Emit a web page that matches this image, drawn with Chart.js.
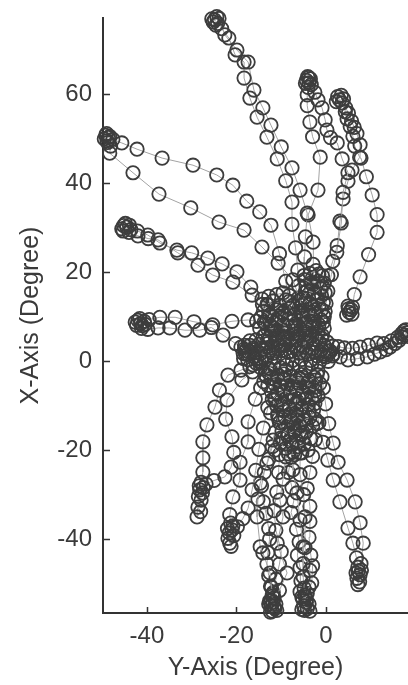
<!DOCTYPE html>
<html><head><meta charset="utf-8">
<script src="https://cdn.jsdelivr.net/npm/chart.js@4.4.0/dist/chart.umd.min.js"></script>
<style>html,body{margin:0;padding:0;background:#fff;overflow:hidden}canvas{display:block}</style>
</head><body>
<canvas id="c" width="408" height="685"></canvas>
<script>
// Axis tick labels and ranges (degrees)
const xTicks = [-40, -20, 0];
const yTicks = [-40, -20, 0, 20, 40, 60];
const xRange = [-49.8, 18.3];
const yRange = [-56.6, 77.2];
const xTitle = 'Y-Axis (Degree)';
const yTitle = 'X-Axis (Degree)';

// Head trajectories: [Y-axis deg, X-axis deg], centre -> target -> centre
const trialNW = [[-6.5,5.5],[-6.8,6.2],[-7.2,6.8],[-7.0,7.9],[-7.5,9.0],[-7.9,10.6],
 [-8.2,13.5],[-9.0,18.0],[-10.4,24.2],[-12.3,30.6],[-14.8,33.6],[-17.7,36.0],[-20.8,39.6],[-24.4,41.9],[-29.7,44.1],[-36.6,45.7],[-42.2,47.7],[-45.6,49.1],[-47.6,49.9],
 [-48.6,50.3],[-49.2,50.8],[-48.9,49.6],[-49.5,50.0],[-48.3,50.6],[-49.0,51.2],[-48.8,49.2],[-48.1,48.4],
 [-48.3,46.8],[-43.1,42.4],[-37.3,37.6],[-30.2,34.5],[-23.9,31.3],[-18.3,29.5],[-14.3,25.7],[-10.7,22.1],[-7.4,18.3],[-5.8,13.8],[-5.2,10.5],[-5.0,8.2],[-4.8,7.1],[-5.1,6.4]];

const trialWNW = [[-9.5,3.8],[-9.9,4.5],[-10.3,5.4],[-10.8,6.8],[-11.5,8.6],
 [-12.8,11.0],[-14.3,14.0],[-16.8,16.7],[-19.9,20.1],[-23.2,21.9],[-26.4,23.2],[-30.0,24.4],[-33.3,25.0],[-37.1,26.6],[-39.8,28.4],[-42.1,29.3],
 [-43.6,29.6],[-44.5,30.2],[-45.2,30.5],[-44.0,29.0],[-45.6,29.8],[-44.8,31.0],[-43.9,30.6],[-45.3,29.3],
 [-42.0,28.2],[-39.7,27.6],[-37.5,27.3],[-33.1,24.4],[-28.6,21.6],[-25.3,19.4],[-20.8,17.8],[-16.5,14.9],[-13.0,12.7],[-10.5,10.0],[-9.2,7.6],[-8.8,5.5],[-8.6,4.4]];

const trialW = [[-10.5,4.0],[-11.0,4.8],[-11.5,5.9],[-12.2,7.2],[-13.5,8.4],
 [-15.5,9.0],[-17.4,9.3],[-21.0,9.0],[-25.3,8.2],[-29.5,8.9],[-33.7,9.9],[-37.1,9.9],[-39.5,9.4],
 [-40.6,9.0],[-41.4,8.5],[-42.0,9.2],[-41.0,8.0],[-42.3,8.1],[-40.4,8.3],[-41.6,9.6],[-42.6,8.8],[-41.2,7.4],
 [-39.8,7.2],[-37.5,7.5],[-34.9,7.5],[-31.5,7.0],[-28.2,7.0],[-25.6,7.6],[-23.0,5.9],[-20.2,4.0],[-18.2,2.8],[-17.3,2.3],[-16.8,1.8],[-17.6,2.6],[-16.4,2.9],[-17.9,1.6],[-15.6,2.0],[-14.0,2.4],[-12.3,2.6]];

const trialNNW = [[-5.5,9.5],[-5.8,10.6],[-6.0,12.0],[-6.2,14.2],[-6.1,17.0],[-6.3,20.5],
 [-6.8,25.5],[-7.6,30.8],[-7.6,35.8],[-9.0,40.6],[-10.9,45.5],[-13.2,50.4],[-15.4,54.9],[-17.0,59.2],[-18.3,63.7],[-18.3,67.3],[-20.3,68.9],[-21.7,72.7],[-23.3,74.8],
 [-24.2,76.0],[-24.9,76.8],[-24.4,77.5],[-25.2,76.3],[-24.6,75.6],[-25.5,77.0],[-23.9,77.1],
 [-22.6,73.4],[-19.9,70.0],[-17.4,67.3],[-16.1,61.0],[-14.1,57.0],[-12.3,53.1],[-10.0,48.2],[-7.6,43.5],[-5.8,38.5],[-4.2,33.3],[-4.6,28.0],[-4.8,23.5],[-4.9,19.3],[-4.6,15.6],[-4.4,13.1],[-4.5,11.8]];

const trialN = [[-2.6,8.5],[-2.9,9.3],[-3.2,10.5],[-3.0,12.2],[-2.8,14.5],[-2.7,17.6],
 [-2.9,21.8],[-2.9,26.8],[-4.0,32.9],[-1.8,38.5],[-1.3,45.9],[-3.0,50.5],[-3.6,53.8],[-4.2,57.5],[-4.2,59.9],[-4.0,61.6],
 [-3.8,62.6],[-4.4,63.2],[-3.5,63.5],[-4.1,64.0],[-3.3,62.2],[-4.6,62.5],[-3.9,63.8],
 [-2.5,60.5],[-1.8,58.8],[-0.9,57.0],[-0.2,54.3],[0.2,52.0],[1.0,50.3],[2.5,49.1],[3.6,45.5],[4.9,42.4],[3.8,38.0],[3.4,31.1],[2.4,24.5],[1.2,19.5],[0.4,15.8],[0.0,13.0],[-0.2,11.2],[-0.5,10.2]];

const trialNNE = [[4.6,10.4],[5.2,11.0],[5.8,10.6],[5.0,11.8],[5.6,11.6],[4.9,12.4],[5.9,12.2],
 [6.3,15.0],[7.6,19.0],[9.5,24.0],[11.4,29.0],[11.4,33.0],[10.3,37.4],[9.0,41.5],[7.8,45.7],[7.6,48.7],[6.9,51.2],[6.3,52.6],[5.7,54.0],[5.0,55.8],[4.4,57.0],
 [3.6,58.1],[3.0,58.8],[2.6,59.5],[3.4,59.8],[2.3,58.4],[3.9,59.0],
 [4.3,56.1],[4.7,54.5],[5.4,52.8],[6.0,50.6],[6.4,48.4],[7.5,45.9],[5.8,43.0],[4.9,40.5],[3.8,36.5],[3.1,31.5],[2.5,26.0],[1.5,22.5],[0.4,19.2],[-0.8,16.8],[-1.6,15.0]];

const trialE = [[-0.5,2.2],[-0.1,1.6],[0.4,2.0],[0.9,2.1],[1.6,1.6],
 [3.2,1.0],[4.9,0.3],[7.0,0.6],[9.2,1.0],[10.8,1.6],[12.1,2.1],[13.4,2.6],[14.3,3.2],[15.4,4.0],[16.3,4.7],
 [17.0,5.5],[17.6,5.9],[18.0,6.4],[17.4,6.8],[18.3,5.6],[16.9,6.2],[17.8,7.1],
 [16.0,5.4],[14.6,4.6],[12.9,4.0],[11.4,4.1],[9.5,3.6],[7.6,3.2],[5.9,2.9],[4.1,3.0],[2.7,3.3],[1.5,3.4]];

const trialSW = [[-14.5,0.5],[-15.0,0.0],[-15.6,-0.4],[-16.3,-0.8],[-17.0,-1.2],
 [-19.0,-2.0],[-21.9,-3.1],[-23.8,-6.5],[-24.8,-10.3],[-26.6,-14.3],[-27.5,-18.1],[-27.5,-21.7],[-27.5,-24.9],[-27.9,-27.2],
 [-28.2,-28.9],[-27.6,-29.6],[-28.5,-30.4],[-27.9,-31.2],[-28.6,-32.8],[-28.0,-33.8],[-28.8,-35.0],[-28.3,-28.0],[-27.4,-28.4],
 [-26.8,-27.6],[-25.0,-26.8],[-22.6,-26.0],[-21.2,-23.8],[-20.6,-20.5],[-21.0,-17.0],[-22.4,-13.0],[-22.1,-8.7],[-18.8,-4.2],[-16.4,-2.4],[-14.6,-1.4]];

const trialSSW = [[-12.4,-1.8],[-12.8,-2.6],[-13.3,-3.4],[-13.9,-4.6],[-14.6,-6.0],
 [-15.8,-8.5],[-17.4,-13.6],[-17.4,-18.1],[-19.2,-22.7],[-19.2,-26.7],[-20.8,-30.5],[-21.5,-34.5],[-21.3,-36.4],
 [-21.0,-37.9],[-21.6,-38.6],[-20.6,-39.2],[-21.5,-40.9],[-21.9,-39.8],[-20.8,-37.0],[-22.0,-37.6],[-21.2,-41.6],
 [-19.8,-37.2],[-18.6,-35.4],[-17.4,-33.0],[-16.5,-28.9],[-15.7,-24.5],[-15.0,-19.8],[-14.0,-15.0],[-13.0,-10.4],[-12.2,-6.8],[-11.6,-4.0]];

const trialS1 = [[-9.0,-2.0],[-9.4,-2.8],[-9.9,-3.9],[-10.4,-5.3],[-10.9,-7.0],
 [-11.4,-8.7],[-10.7,-12.5],[-11.8,-17.7],[-13.2,-22.9],[-14.7,-27.4],[-15.2,-31.0],[-15.4,-35.0],[-14.7,-41.7],[-14.1,-43.1],[-12.5,-47.6],[-12.2,-50.8],[-11.9,-52.8],
 [-11.8,-54.2],[-12.3,-55.0],[-11.4,-55.6],[-12.0,-56.2],[-11.2,-54.6],[-12.6,-53.9],[-11.6,-53.2],
 [-10.4,-51.5],[-8.7,-47.6],[-10.9,-40.9],[-9.6,-35.0],[-10.3,-31.2],[-9.6,-26.5],[-9.0,-21.5],[-8.6,-16.8],[-8.2,-12.5],[-8.0,-8.6],[-7.8,-5.9]];

const trialS1b = [[-10.0,-10.0],[-10.6,-13.0],[-11.4,-16.0],[-12.0,-19.2],[-12.8,-22.0],[-13.8,-25.0],[-14.4,-28.0],[-14.0,-31.6],[-13.4,-34.2],[-12.8,-37.6],[-12.6,-40.0],[-13.0,-43.0],[-13.2,-45.6],[-12.8,-48.2],[-12.4,-50.6],[-12.0,-52.4],
 [-12.2,-53.8],[-12.8,-54.6],[-11.6,-55.4],[-12.4,-56.4],[-11.0,-56.0],
 [-11.8,-52.0],[-11.2,-49.0],[-10.4,-45.6],[-10.0,-42.8],[-11.2,-38.0],[-11.6,-33.6],[-11.0,-29.4],[-10.6,-25.0],[-10.4,-21.0],[-10.0,-17.2],[-9.6,-13.6]];

const trialS2 = [[-5.5,-3.0],[-5.9,-3.8],[-6.2,-4.9],[-6.6,-6.2],[-7.0,-8.0],
 [-7.3,-11.5],[-7.4,-16.1],[-7.4,-20.5],[-7.4,-24.4],[-6.5,-29.6],[-5.8,-35.7],[-5.1,-41.7],[-5.1,-45.5],[-5.1,-48.5],[-4.9,-51.0],
 [-4.7,-52.6],[-5.2,-53.5],[-4.4,-54.2],[-5.0,-55.0],[-4.2,-55.6],[-5.4,-55.8],[-4.6,-53.0],
 [-3.8,-50.8],[-3.6,-47.0],[-4.7,-41.9],[-4.7,-35.0],[-5.0,-30.0],[-5.8,-25.5],[-5.8,-20.6],[-5.2,-15.8],[-4.6,-11.3],[-4.3,-7.6],[-4.2,-5.0]];

const trialS2b = [[-6.4,-9.0],[-6.8,-12.2],[-6.2,-15.0],[-6.6,-18.4],[-7.8,-21.6],[-8.4,-25.0],[-7.6,-28.4],[-7.2,-31.4],[-7.8,-34.0],[-6.6,-37.8],[-6.0,-40.6],[-6.4,-43.6],[-5.8,-46.4],[-5.6,-49.4],[-5.8,-51.8],
 [-5.4,-53.0],[-4.4,-53.6],[-3.8,-54.6],[-4.8,-56.0],[-3.6,-56.2],
 [-4.2,-52.2],[-3.2,-49.8],[-3.0,-46.0],[-3.4,-43.6],[-3.8,-39.6],[-3.6,-36.0],[-3.6,-32.6],[-4.2,-28.6],[-3.6,-25.0],[-3.0,-21.4],[-2.4,-17.6],[-2.0,-14.0]];

const trialSSE = [[-1.8,-2.2],[-2.0,-3.0],[-2.3,-4.2],[-2.5,-5.8],[-2.5,-7.6],
 [-2.5,-9.5],[-1.6,-13.8],[-0.7,-18.2],[0.4,-22.2],[1.6,-26.7],[3.1,-31.6],[4.9,-37.5],[6.0,-40.9],[6.8,-44.2],[7.1,-46.3],
 [7.2,-47.2],[7.6,-48.0],[6.9,-48.8],[7.5,-49.6],[6.7,-47.6],[7.9,-47.0],[7.1,-50.2],
 [7.8,-45.5],[8.3,-40.9],[7.6,-36.3],[6.5,-31.6],[4.7,-26.7],[2.7,-22.7],[1.6,-18.4],[0.6,-14.0],[-0.1,-9.6],[-0.6,-6.0],[-0.9,-3.5]];

// Dwell samples around the centre between trials
const centreBand = [[-19.0,3.2],[-18.0,2.4],[-17.0,3.6],[-16.0,2.6],[-15.0,3.8],[-14.0,2.8],[-13.0,4.0],[-12.0,3.0],[-11.0,4.2],[-10.0,2.4],[-9.0,3.6],[-8.0,2.2],[-7.0,3.4],[-6.0,1.8],[-5.0,3.2],[-4.0,1.6],[-3.0,2.8],[-2.0,1.2],[-1.0,2.6],[0.0,1.0],[0.8,2.4],
 [-0.4,3.6],[-1.6,4.4],[-2.8,3.8],[-4.2,4.6],[-5.4,3.6],[-6.6,4.8],[-7.8,3.8],[-9.2,5.0],[-10.4,3.6],[-11.8,1.8],[-13.2,1.2],[-14.6,1.8],[-16.0,1.0],[-17.4,1.6],[-18.4,0.6]];

const centreBand2 = [[-18.5,1.8],[-17.5,0.4],[-16.5,2.0],[-15.5,0.6],[-14.5,3.0],[-13.5,0.4],[-12.5,2.2],[-11.5,0.8],[-10.5,2.8],[-9.5,0.6],[-8.5,2.0],[-7.5,0.2],[-6.5,2.6],[-5.5,0.4],[-4.5,2.2],[-3.5,0.2],[-2.5,2.0],[-1.5,-0.2],[-0.5,1.2],[0.5,0.0],[1.4,1.2],
 [0.2,4.4],[-1.0,5.2],[-2.2,4.8],[-3.6,5.4],[-4.8,4.6],[-6.2,5.6],[-7.2,4.4],[-8.6,4.4],[-9.8,5.6],[-11.2,5.0],[-12.6,5.4],[-14.0,5.6],[-15.6,4.8],[-17.0,4.6],[-18.2,3.6]];

const centreUpperLeft = [[-8.0,5.2],[-9.4,6.4],[-10.8,5.6],[-12.2,6.8],[-13.6,6.0],[-14.8,7.4],[-13.8,8.8],[-12.4,8.0],[-11.0,9.2],[-9.6,8.2],[-8.4,9.6],[-9.8,10.8],[-11.2,11.6],[-12.6,10.4],[-14.0,11.2],[-13.2,12.8],[-11.8,13.6],[-10.4,12.6],[-9.0,13.8],[-8.0,12.0],[-7.2,10.4],[-6.8,8.4]];

const centreUpperRight = [[-5.6,5.4],[-4.4,6.2],[-3.2,5.6],[-1.8,6.6],[-0.8,5.8],[-0.4,7.4],[-1.6,8.2],[-3.0,7.8],[-4.6,8.6],[-5.4,10.2],[-4.0,11.0],[-2.4,10.6],[-1.0,11.6],[-0.6,13.2],[-2.0,13.8],[-3.6,13.0],[-5.0,14.2],[-4.2,15.8],[-2.6,15.4],[-1.2,16.4],[-1.8,18.0],[-3.4,17.6],[-4.8,18.4],[-3.6,19.8],[-2.2,20.4],[-0.8,19.2]];

const centreUpper2 = [[-14.6,9.8],[-13.2,9.4],[-12.0,10.0],[-10.6,10.2],[-9.2,11.4],[-8.4,7.6],[-10.0,7.4],[-11.6,7.4],[-13.0,7.2],[-14.2,12.8],[-12.8,14.6],[-11.0,15.0],[-9.6,15.4],[-8.2,14.8],[-7.4,12.6],[-6.2,11.0],[-5.4,12.6],[-4.6,13.6],
 [-3.2,12.0],[-1.6,12.4],[-0.4,10.0],[-1.2,9.4],[-2.6,9.0],[-4.0,9.6],[-5.0,7.2],[-3.8,7.0],[-2.2,7.4],[-0.6,8.8],[-1.0,14.8],[-2.8,16.8],[-4.4,17.0],[-3.0,18.8],[-1.6,19.6],[-0.4,17.6],[-0.2,15.4]];

const centreLower = [[-3.2,-0.6],[-4.6,-1.4],[-6.0,-0.8],[-7.4,-1.6],[-8.8,-0.8],[-10.2,-1.4],[-11.6,-0.6],[-12.8,-1.6],[-13.6,-3.0],[-12.2,-3.8],[-10.8,-3.2],[-9.4,-4.0],[-8.0,-3.4],[-6.6,-4.2],[-5.2,-3.6],[-3.8,-4.4],[-2.6,-3.6],[-1.4,-5.0],
 [-2.4,-6.6],[-3.8,-6.0],[-5.2,-7.0],[-6.6,-6.4],[-8.0,-7.2],[-9.4,-6.6],[-10.8,-7.4],[-12.0,-8.6],[-11.0,-10.0],[-9.6,-9.4],[-8.2,-10.4],[-6.8,-9.6],[-5.4,-10.6],[-4.0,-9.8],[-2.8,-11.0],
 [-3.6,-12.6],[-5.0,-13.2],[-6.4,-12.4],[-7.8,-13.4],[-9.2,-12.6],[-10.4,-13.8],[-9.8,-15.6],[-8.4,-16.4],[-7.0,-15.6],[-5.6,-16.6],[-4.4,-15.8],[-3.4,-17.4],[-4.8,-18.6],[-6.2,-19.2],[-7.6,-18.4],[-9.0,-19.6],[-10.2,-18.4],[-11.4,-20.0]];

const centreLower2 = [[-13.0,-5.4],[-11.6,-5.0],[-10.2,-5.6],[-8.6,-5.2],[-7.2,-5.6],[-5.8,-5.4],[-4.4,-5.6],[-3.0,-5.2],[-1.8,-7.8],[-3.2,-8.4],[-4.6,-8.2],[-6.0,-8.4],[-7.4,-8.6],[-8.8,-8.2],[-10.0,-8.6],[-11.4,-8.4],
 [-12.4,-11.6],[-10.8,-12.0],[-9.4,-11.2],[-8.0,-11.8],[-6.6,-11.2],[-5.2,-11.8],[-3.8,-11.4],[-2.4,-13.0],[-3.0,-14.6],[-4.4,-14.2],[-5.8,-14.4],[-7.2,-14.0],[-8.6,-14.6],
 [-9.6,-17.4],[-8.0,-17.6],[-6.6,-17.8],[-5.2,-17.4],[-4.0,-20.0],[-5.4,-20.6],[-7.0,-21.0],[-8.4,-20.8]];

const trials = [centreBand, centreBand2, centreUpperLeft, centreUpperRight, centreUpper2, centreLower, centreLower2,
  trialNW, trialWNW, trialW, trialNNW, trialN, trialNNE, trialE, trialSW, trialSSW, trialS1, trialS1b, trialS2, trialS2b, trialSSE];

const FONT = "'Liberation Sans', Arial, Helvetica, sans-serif";
const TXT = '#3a3a3a';

const inwardTicks = {
  id: 'inwardTicks',
  afterDraw(chart) {
    const {ctx, chartArea: a, scales: {x, y}} = chart;
    ctx.save();
    ctx.strokeStyle = '#333';
    ctx.lineWidth = 1.5;
    ctx.beginPath();
    xTicks.forEach(v => { const p = Math.round(x.getPixelForValue(v)) + 0.5; ctx.moveTo(p, a.bottom); ctx.lineTo(p, a.bottom - 6); });
    yTicks.forEach(v => { const p = Math.round(y.getPixelForValue(v)) + 0.5; ctx.moveTo(a.left, p); ctx.lineTo(a.left + 7, p); });
    ctx.stroke();
    ctx.restore();
  }
};

const noPad = s => { s.paddingTop = 0; s.paddingBottom = 0; s.paddingLeft = 0; s.paddingRight = 0; };

new Chart(document.getElementById('c').getContext('2d'), {
  type: 'scatter',
  data: {
    datasets: trials.map(t => ({
      data: t.map(p => ({x: p[0], y: p[1]})),
      showLine: true,
      borderColor: '#a3a3a3',
      borderWidth: 1,
      pointRadius: 6.7,
      pointBorderWidth: 1.8,
      pointBorderColor: '#3d3d3d',
      pointBackgroundColor: 'rgba(0,0,0,0)',
      tension: 0,
      clip: false
    }))
  },
  options: {
    responsive: false,
    animation: false,
    devicePixelRatio: 1,
    plugins: { legend: {display: false}, tooltip: {enabled: false} },
    layout: { autoPadding: false, padding: {top: 18, right: 0, bottom: 0, left: 0} },
    scales: {
      x: {
        type: 'linear', min: xRange[0], max: xRange[1],
        afterBuildTicks: s => { s.ticks = xTicks.map(v => ({value: v})); },
        afterFit: s => { s.height = 72; noPad(s); },
        grid: {display: false, drawTicks: false},
        border: {display: true, color: '#333', width: 2},
        ticks: {font: {size: 24, family: FONT}, color: TXT, padding: 9, maxRotation: 0},
        title: {display: true, text: xTitle, font: {size: 25, family: FONT}, color: TXT, padding: {top: 0, bottom: 2}}
      },
      y: {
        type: 'linear', min: yRange[0], max: yRange[1],
        afterBuildTicks: s => { s.ticks = yTicks.map(v => ({value: v})); },
        afterFit: s => { s.width = 103; noPad(s); },
        grid: {display: false, drawTicks: false},
        border: {display: true, color: '#333', width: 2},
        ticks: {font: {size: 24, family: FONT}, color: TXT, padding: 11},
        title: {display: true, text: yTitle, font: {size: 25, family: FONT}, color: TXT, padding: {top: 16, bottom: 0}}
      }
    }
  },
  plugins: [inwardTicks]
});
</script>
</body></html>
